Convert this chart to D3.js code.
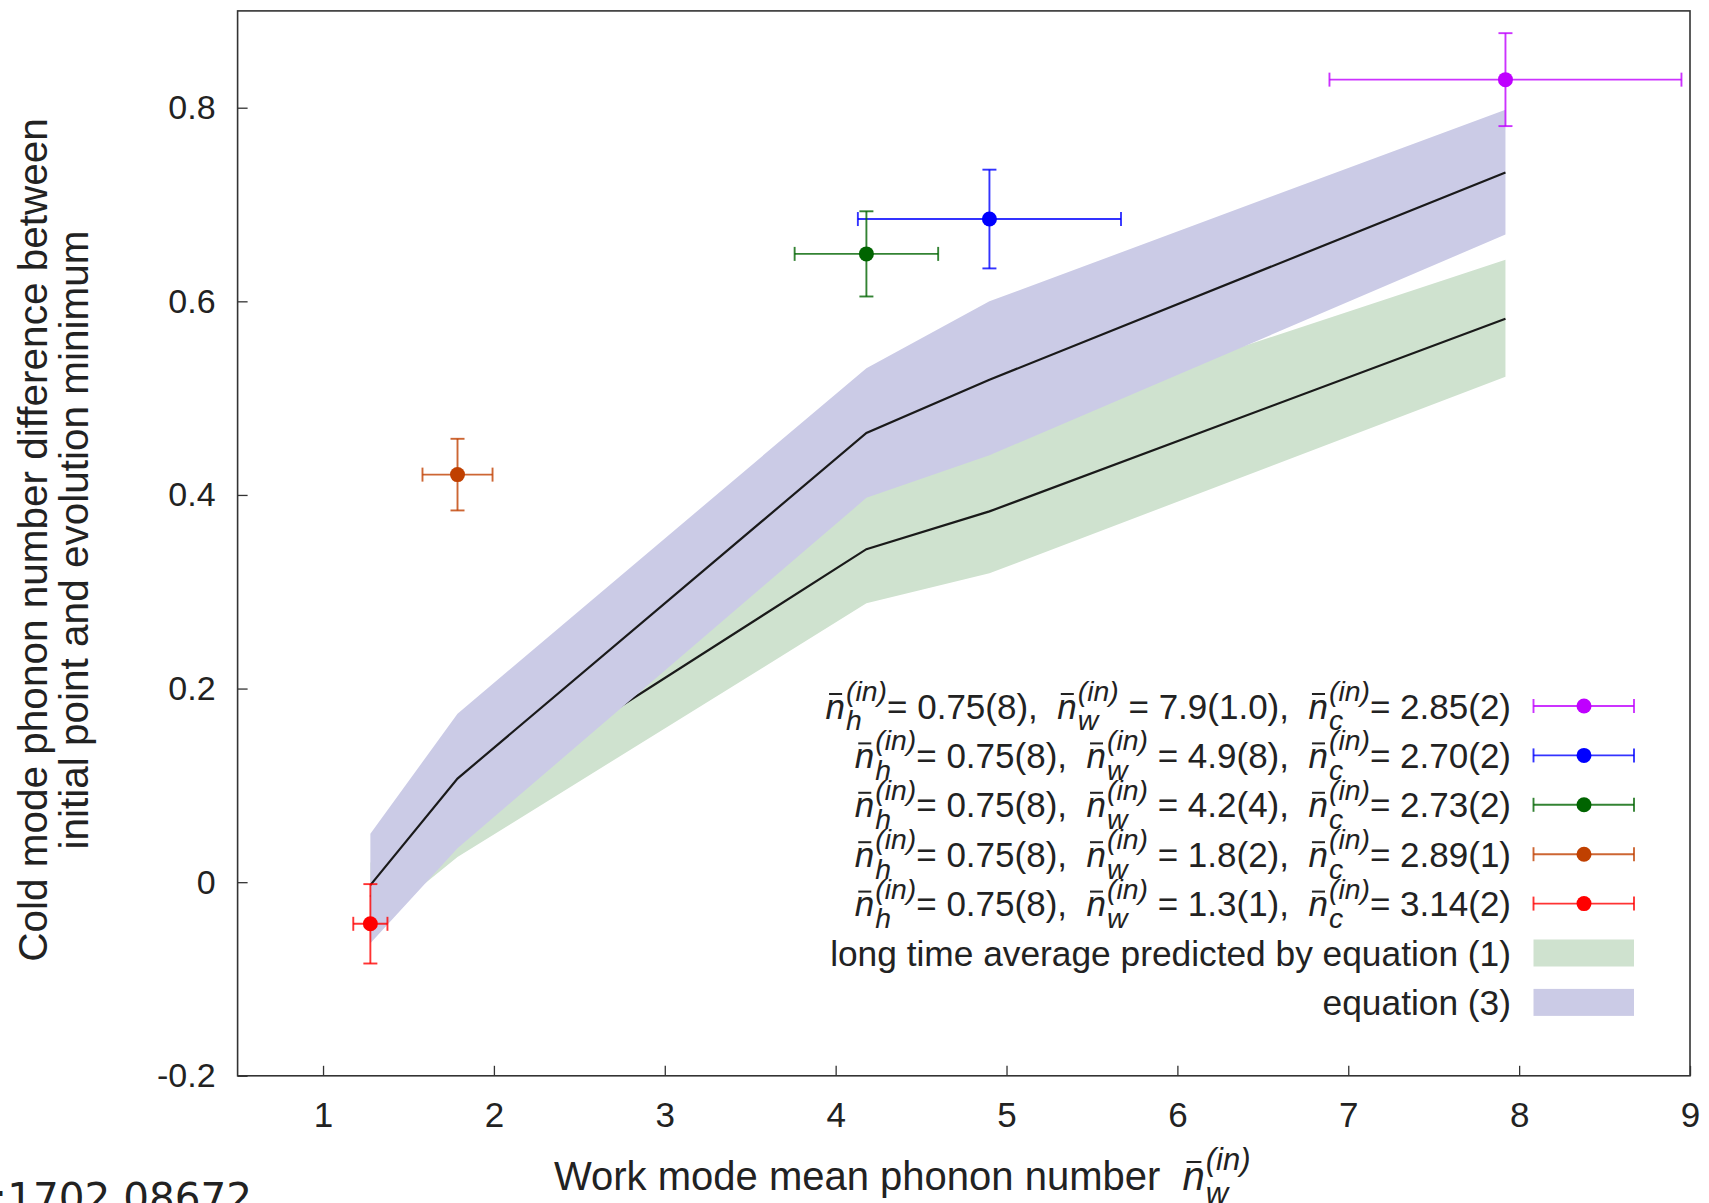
<!DOCTYPE html>
<html>
<head>
<meta charset="utf-8">
<script src="https://cdn.jsdelivr.net/npm/d3@7"></script>
<style>
  body { margin: 0; background: #fff; }
  svg text { font-family: "Liberation Sans", Arial, sans-serif; fill: #222; white-space: pre; }
</style>
</head>
<body>
<div id="chart"></div>
<script>
// measured points (work mode n_w on x, cold mode difference on y)
var pointX = [7.92, 4.90, 4.18, 1.787, 1.277];
var pointXErr = [1.03, 0.77, 0.42, 0.205, 0.10];
var pointY = [0.829, 0.685, 0.649, 0.421, -0.043];
var pointYErr = [0.048, 0.051, 0.044, 0.037, 0.041];
var pointColors = ["#bf00ff", "#0000ff", "#006400", "#c04000", "#ff0000"];

// legend values
var nhLabel = "0.75(8)";
var nwLabels = ["7.9(1.0)", "4.9(8)", "4.2(4)", "1.8(2)", "1.3(1)"];
var ncLabels = ["2.85(2)", "2.70(2)", "2.73(2)", "2.89(1)", "3.14(2)"];
var bandLabels = ["long time average predicted by equation (1)", "equation (3)"];

// theory bands, evaluated at the measured n_w
var bandX = [1.277, 1.787, 4.18, 4.90, 7.92];
var eq1Low = [-0.047, 0.026, 0.288, 0.319, 0.522];
var eq1Mid = [-0.015, 0.074, 0.344, 0.383, 0.582];
var eq1High = [0.020, 0.120, 0.420, 0.467, 0.643];
var eq3Low = [-0.063, 0.035, 0.397, 0.441, 0.669];
var eq3Mid = [-0.003, 0.107, 0.464, 0.519, 0.733];
var eq3High = [0.050, 0.174, 0.531, 0.600, 0.798];
var bandColors = ["#cfe2cf", "#cbcbe6"];

var xTicks = [1, 2, 3, 4, 5, 6, 7, 8, 9];
var yTicks = [-0.2, 0, 0.2, 0.4, 0.6, 0.8];
var yTickLabels = ["-0.2", "0", "0.2", "0.4", "0.6", "0.8"];

var svgWidth = 1709;
var svgHeight = 1203;

var svg = d3.select("#chart")
  .append("svg")
  .attr("width", svgWidth)
  .attr("height", svgHeight);

var xscale = d3.scaleLinear().domain([0.5, 9]).range([237.6, 1690]);
var yscale = d3.scaleLinear().domain([-0.2, 0.9]).range([1075.8, 10.9]);

// bands + center lines
var bands = [[eq1Low, eq1Mid, eq1High], [eq3Low, eq3Mid, eq3High]];
bands.forEach(function(b, k) {
  var area = d3.area()
    .x((d, i) => xscale(bandX[i]))
    .y0((d, i) => yscale(b[0][i]))
    .y1((d, i) => yscale(b[2][i]));
  svg.append("path")
    .attr("d", area(bandX))
    .attr("fill", bandColors[k]);
  var line = d3.line()
    .x((d, i) => xscale(bandX[i]))
    .y((d, i) => yscale(b[1][i]));
  svg.append("path")
    .attr("d", line(bandX))
    .attr("fill", "none")
    .attr("stroke", "#1a1a1a")
    .attr("stroke-width", 2.2);
});

// error bars
function errorBar(g, cx, cy, x0, x1, y0, y1, color) {
  var cap = 7;
  g.append("line").attr("x1", x0).attr("x2", x1).attr("y1", cy).attr("y2", cy);
  g.append("line").attr("x1", x0).attr("x2", x0).attr("y1", cy - cap).attr("y2", cy + cap);
  g.append("line").attr("x1", x1).attr("x2", x1).attr("y1", cy - cap).attr("y2", cy + cap);
  if (y0 !== null) {
    g.append("line").attr("x1", cx).attr("x2", cx).attr("y1", y0).attr("y2", y1);
    g.append("line").attr("x1", cx - cap).attr("x2", cx + cap).attr("y1", y0).attr("y2", y0);
    g.append("line").attr("x1", cx - cap).attr("x2", cx + cap).attr("y1", y1).attr("y2", y1);
  }
  g.selectAll("line").attr("stroke", color).attr("stroke-width", 1.9).attr("stroke-opacity", 0.8);
  g.append("circle").attr("cx", cx).attr("cy", cy).attr("r", 7.5).attr("fill", color);
}

pointX.forEach(function(px, i) {
  var g = svg.append("g");
  errorBar(g, xscale(px), yscale(pointY[i]),
    xscale(px - pointXErr[i]), xscale(px + pointXErr[i]),
    yscale(pointY[i] + pointYErr[i]), yscale(pointY[i] - pointYErr[i]),
    pointColors[i]);
});

// axes, ticks pointing inward
var bottomAxis = d3.axisBottom(xscale).tickValues(xTicks).tickSize(-10).tickPadding(26);
var leftAxis = d3.axisLeft(yscale).tickValues(yTicks).tickSize(-10).tickPadding(22)
  .tickFormat((d, i) => yTickLabels[i]);

var xAxis = svg.append("g").attr("transform", `translate(0, ${yscale(-0.2)})`).call(bottomAxis);
var yAxis = svg.append("g").attr("transform", `translate(${xscale(0.5)}, 0)`).call(leftAxis);
[xAxis, yAxis].forEach(function(a) {
  a.select(".domain").remove();
  a.selectAll("line").attr("stroke", "#333").attr("stroke-width", 1.3);
  a.selectAll("text").attr("font-size", 35).attr("fill", "#222")
    .attr("font-family", "Liberation Sans, Arial, sans-serif");
});
// y tick labels are set in a wider face
yAxis.selectAll("text").attr("font-size", 34).attr("font-family", "DejaVu Sans, sans-serif");

svg.append("rect")
  .attr("x", xscale(0.5)).attr("y", yscale(0.9))
  .attr("width", xscale(9) - xscale(0.5))
  .attr("height", yscale(-0.2) - yscale(0.9))
  .attr("fill", "none").attr("stroke", "#333").attr("stroke-width", 1.6);

// rich text: n-bar with stacked sub/superscript
function richText(parts, x, y, size, ss, anchor) {
  var g = svg.append("g");
  var cx = 0;
  parts.forEach(function(p) {
    if (p.nbar) {
      var t = g.append("text").attr("x", cx).attr("y", 0).attr("font-size", size)
        .attr("font-style", "italic").text("n");
      var w = t.node().getComputedTextLength();
      g.append("line").attr("x1", cx + size * 0.1).attr("x2", cx + w * 0.85)
        .attr("y1", -size * 0.7).attr("y2", -size * 0.7)
        .attr("stroke", "#222").attr("stroke-width", 2);
      cx += w + 1;
      var sb = g.append("text").attr("x", cx).attr("y", size * 0.34).attr("font-size", ss)
        .attr("font-style", "italic").text(p.sub);
      var sp = g.append("text").attr("x", cx).attr("y", -size * 0.5).attr("font-size", ss)
        .attr("font-style", "italic").text("(in)");
      cx += Math.max(sb.node().getComputedTextLength(), sp.node().getComputedTextLength());
    } else {
      var t2 = g.append("text").attr("x", cx).attr("y", 0).attr("font-size", size).text(p.s);
      cx += t2.node().getComputedTextLength();
    }
  });
  var left = anchor === "end" ? x - cx : x;
  g.attr("transform", `translate(${left}, ${y})`);
  return g;
}

// legend
var legendRight = 1511;
var rowY = d3.range(7).map(i => 706 + i * 49.4);
nwLabels.forEach(function(nw, i) {
  var cy = rowY[i];
  richText([
    {nbar: true, sub: "h"}, {s: "= " + nhLabel + ",  "},
    {nbar: true, sub: "w"}, {s: " = " + nw + ",  "},
    {nbar: true, sub: "c"}, {s: "= " + ncLabels[i]}
  ], legendRight, cy + 12.5, 35, 28.4, "end");
  errorBar(svg.append("g"), 1584, cy, 1533.5, 1634, null, null, pointColors[i]);
});
bandLabels.forEach(function(lbl, k) {
  var cy = rowY[5 + k];
  svg.append("text").attr("x", legendRight).attr("y", cy + 12.5)
    .attr("text-anchor", "end").attr("font-size", 35.3).text(lbl);
  svg.append("rect").attr("x", 1533.5).attr("y", cy - 13.5)
    .attr("width", 100.5).attr("height", 27).attr("fill", bandColors[k]);
});

// axis titles
richText([{s: "Work mode mean phonon number  "}, {nbar: true, sub: "w"}], 554, 1190, 40, 31, "start");

var yTitle = svg.append("g").attr("transform", "translate(0, 540) rotate(-90)");
yTitle.append("text").attr("x", 0).attr("y", 47).attr("text-anchor", "middle")
  .attr("font-size", 40.5).text("Cold mode phonon number difference between");
yTitle.append("text").attr("x", 0).attr("y", 88).attr("text-anchor", "middle")
  .attr("font-size", 40.5).text("initial point and evolution minimum");

// source tag, cut by the bottom edge
svg.append("text").attr("x", 252).attr("y", 1212).attr("text-anchor", "end")
  .attr("font-size", 40.5).style("font-family", "DejaVu Sans, sans-serif")
  .attr("fill", "#000").text("arXiv:1702.08672");
</script>
</body>
</html>
